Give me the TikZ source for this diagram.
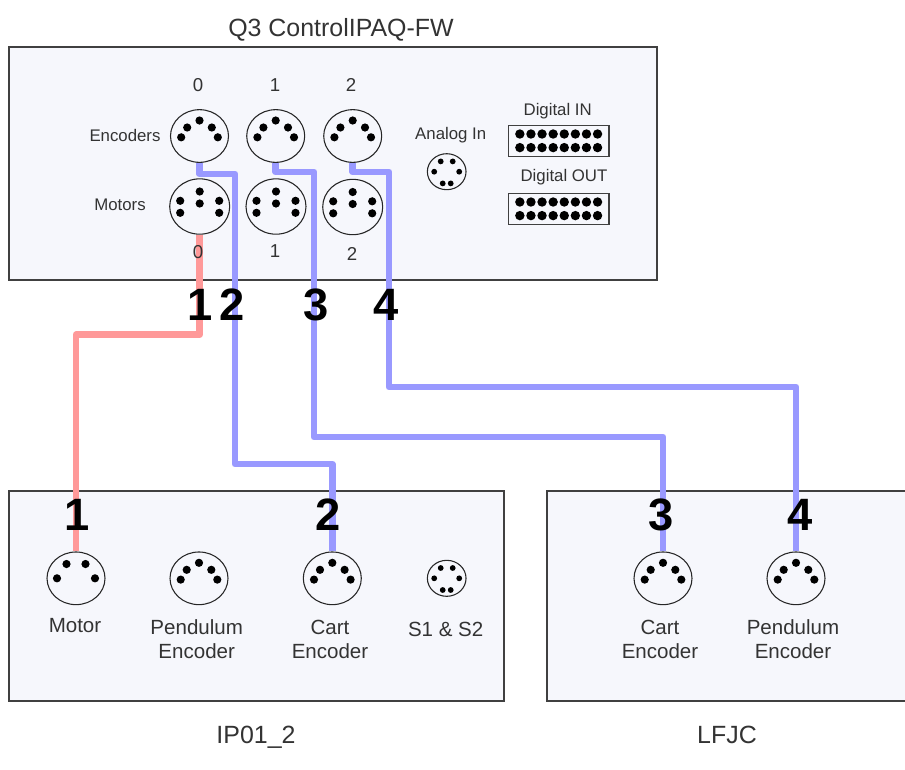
\documentclass[tikz,border=0pt]{standalone}
\usepackage{fontspec}
\setmainfont{Liberation Sans}
\usetikzlibrary{shapes.geometric}
\definecolor{boxfill}{HTML}{F6F7FC}
\definecolor{boxline}{HTML}{404040}
\definecolor{inktext}{HTML}{333333}
\definecolor{bluewire}{HTML}{9999FF}
\definecolor{redwire}{HTML}{FF9999}
\tikzset{
  panel/.style={draw=boxline, fill=boxfill, line width=1pt},
  bigsocket/.style={draw=black!85, ellipse, line width=0.8pt, inner sep=0pt, minimum width=43.5pt, minimum height=39.5pt},
  smallsocket/.style={draw=black!85, ellipse, line width=0.8pt, inner sep=0pt, minimum width=29pt, minimum height=27pt},
  portbox/.style={draw=boxline, line width=0.9pt, inner sep=0pt, minimum width=75.5pt, minimum height=23.5pt},
  smalllabel/.style={text=inktext, font=\fontsize{12.6}{15}\selectfont, inner sep=0pt},
  digitlabel/.style={text=inktext, font=\fontsize{14}{16}\selectfont, inner sep=0pt},
  midlabel/.style={text=inktext, align=center, font=\fontsize{15.4}{18}\selectfont, inner sep=0pt},
  biglabel/.style={text=inktext, font=\fontsize{18.7}{22}\selectfont, inner sep=0pt},
  wirenumber/.style={text=black, font=\fontsize{34}{40}\bfseries\selectfont, inner sep=0pt},
  bluecable/.style={draw=bluewire, line width=5pt, line join=round},
  redcable/.style={draw=redwire, line width=5pt, line join=round},
}
\newcommand{\encoderpins}[1]{\foreach \dx/\dy in {0/-15.5,-12.3/-8.5,12.3/-8.5,-18.3/1.3,18.3/1.3}
  \fill ([shift={(\dx,\dy)}]#1) circle (4.1);}
\newcommand{\motorpins}[1]{\foreach \dx/\dy in {0/-15,0/-3,-19.5/-5.7,-19.5/6.3,19.5/-5.7,19.5/6.3}
  \fill ([shift={(\dx,\dy)}]#1) circle (4.1);}
\newcommand{\fourpins}[1]{\foreach \dx/\dy in {-9.5/-14.3,9.5/-14.3,-19/0,19/0}
  \fill ([shift={(\dx,\dy)}]#1) circle (4.1);}
\newcommand{\analogpins}[1]{\foreach \dx/\dy in {-6/-10.3,6/-10.3,-12.5/0,12.5/0,-4/11.7,4/11.7}
  \fill ([shift={(\dx,\dy)}]#1) circle (2.9);
  \draw[line width=1.5pt] ([shift={(0,-11)}]#1) -- ([shift={(0,-4)}]#1);}
\newcommand{\portpins}[1]{\foreach \dy in {-6.8,6.8} \foreach \dx in {-38.85,-27.75,-16.65,-5.55,5.55,16.65,27.75,38.85}
  \fill ([shift={(\dx,\dy)}]#1) circle (4.7);}
\begin{document}
\begin{tikzpicture}[x=0.75pt, y=-0.75pt]
\useasboundingbox (0,0) rectangle (905,769);

% the three panels
\draw[panel] (9,47) rectangle (657,280);
\draw[panel] (9,491) rectangle (504,701);
\draw[panel] (547,491) rectangle (908,701);

% panel titles
\node[biglabel] (qtitle) at (341,30) {Q3 ControlIPAQ-FW};
\node[biglabel] (iptitle) at (256,737) {IP01\_2};
\node[biglabel] (lftitle) at (727,735) {LFJC};

% board sockets
\node[bigsocket] (enczero) at (199.5,136) {};
\node[bigsocket] (encone) at (275.7,136) {};
\node[bigsocket] (enctwo) at (352.7,136) {};
\node[bigsocket, minimum width=45pt, minimum height=41.5pt] (motzero) at (199.7,206.5) {};
\node[bigsocket, minimum width=45pt, minimum height=41.5pt] (motone) at (276,206.5) {};
\node[bigsocket, minimum width=45pt, minimum height=41.5pt] (mottwo) at (352.7,207) {};
\node[smallsocket] (analog) at (446.7,171.7) {};
\node[portbox] (digin) at (558.7,140.8) {};
\node[portbox] (digout) at (558.7,208.8) {};

% plant sockets
\node[bigsocket] (motor) at (76,578.3) {};
\node[bigsocket] (pendone) at (199,578.3) {};
\node[bigsocket] (cartone) at (332.3,578.3) {};
\node[smallsocket] (limits) at (446.7,578.3) {};
\node[bigsocket] (carttwo) at (663,578.3) {};
\node[bigsocket] (pendtwo) at (796,578.3) {};

% pins
\encoderpins{enczero}
\encoderpins{encone}
\encoderpins{enctwo}
\motorpins{motzero}
\motorpins{motone}
\motorpins{mottwo}
\analogpins{analog}
\portpins{digin}
\portpins{digout}
\fourpins{motor}
\encoderpins{pendone}
\encoderpins{cartone}
\analogpins{limits}
\encoderpins{carttwo}
\encoderpins{pendtwo}

% cables
\draw[redcable] (motzero.south) -- ++(0,100) -| (motor.north);
\draw[bluecable] (enczero.south) -- ++(0,11) -| (235,464) -| (cartone.north);
\draw[bluecable] (encone.south) -- ++(0,9) -| (314,437) -| (carttwo.north);
\draw[bluecable] (enctwo.south) -- ++(0,9) -| (389,387) -| (pendtwo.north);

% board labels
\node[digitlabel] (enctop) at (198,85) {0};
\node[digitlabel] (onetop) at (275,85) {1};
\node[digitlabel] (twotop) at (351,85) {2};
\node[digitlabel] (motbot) at (198,252) {0};
\node[digitlabel] (onebot) at (275,251) {1};
\node[digitlabel] (twobot) at (352,254) {2};
\node[smalllabel] (enclabel) at (125,135) {Encoders};
\node[smalllabel] (motlabel) at (120,205) {Motors};
\node[smalllabel] (anlabel) at (450.7,135) {Analog In};
\node[smalllabel] (inlabel) at (557.7,110.7) {Digital IN};
\node[smalllabel] (outlabel) at (564,176.7) {Digital OUT};

% plant labels
\node[midlabel] (motorlabel) at (75,626) {Motor};
\node[midlabel] (pendlabelone) at (196.7,639) {Pendulum\\Encoder};
\node[midlabel] (cartlabelone) at (330,639) {Cart\\Encoder};
\node[midlabel] (limitlabel) at (445.7,629) {S1 \& S2};
\node[midlabel] (cartlabeltwo) at (660,639) {Cart\\Encoder};
\node[midlabel] (pendlabeltwo) at (793,639) {Pendulum\\Encoder};

% cable numbers
\node[wirenumber] (numonetop) at (200,305) {1};
\node[wirenumber] (numtwotop) at (232,305) {2};
\node[wirenumber] (numthreetop) at (316,305) {3};
\node[wirenumber] (numfourtop) at (386,305) {4};
\node[wirenumber] (numonebot) at (77,515) {1};
\node[wirenumber] (numtwobot) at (328,515) {2};
\node[wirenumber] (numthreebot) at (661,515) {3};
\node[wirenumber] (numfourbot) at (800,515) {4};
\end{tikzpicture}
\end{document}
